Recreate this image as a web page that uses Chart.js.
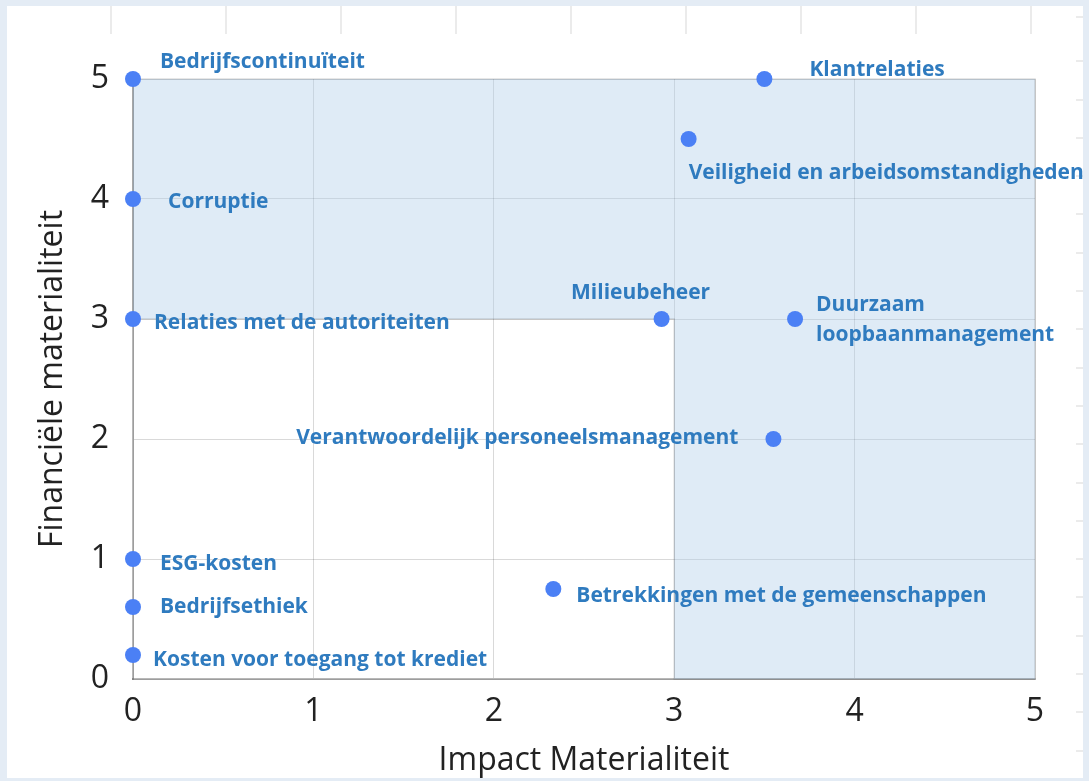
<!DOCTYPE html>
<html lang="nl">
<head>
<meta charset="utf-8">
<title>Materialiteitsmatrix</title>
<script src="https://cdn.jsdelivr.net/npm/chart.js@4.4.1/dist/chart.umd.min.js"></script>
<style>
    html, body {
        margin: 0;
        padding: 0;
        background: #e4ecf5;
        width: 1089px;
        height: 781px;
        overflow: hidden;
        font-family: 'Open Sans', sans-serif;
    }
    .panel {
        position: absolute;
        left: 7px;
        top: 6px;
        width: 1076px;
        height: 772px;
        background: #ffffff;
    }
    .strip-top {
        position: absolute;
        left: 7px;
        top: 6px;
        width: 1076px;
        height: 28px;
        background: repeating-linear-gradient(90deg, transparent 0, transparent 113px, #ebebeb 113px, #ebebeb 115px);
        background-position: -10px 0;
    }
    .strip-right {
        position: absolute;
        left: 1076px;
        top: 6px;
        width: 7px;
        height: 772px;
        background: repeating-linear-gradient(180deg, transparent 0, transparent 36.3px, #ebebeb 36.3px, #ebebeb 38.3px);
        background-position: 0 18px;
    }
    .chart-box {
        position: absolute;
        left: 0;
        top: 0;
        width: 1089px;
        height: 781px;
    }
</style>
</head>
<body>
<div class="panel"></div>
<div class="strip-top"></div>
<div class="strip-right"></div>
<div class="chart-box"><canvas id="matrixChart"></canvas></div>

<script>
// Onderwerpen met impact- en financiële materialiteit
const topics = [
    'Bedrijfscontinuïteit',
    'Klantrelaties',
    'Veiligheid en arbeidsomstandigheden',
    'Corruptie',
    'Relaties met de autoriteiten',
    'Milieubeheer',
    ['Duurzaam', 'loopbaanmanagement'],
    'Verantwoordelijk personeelsmanagement',
    'ESG-kosten',
    'Betrekkingen met de gemeenschappen',
    'Bedrijfsethiek',
    'Kosten voor toegang tot krediet',
];
const impactScores = [0, 3.5, 3.08, 0, 0, 2.93, 3.67, 3.55, 0, 2.33, 0, 0];
const financialScores = [5, 5, 4.5, 4, 3, 3, 3, 2, 1, 0.75, 0.6, 0.2];
const axisTicks = [0, 1, 2, 3, 4, 5];

// Drempel waarboven een onderwerp als materieel geldt
const threshold = 3;

// Plaatsing van elk label t.o.v. het punt: [dx, dy, uitlijning]
const labelPlacement = [
    [27, -17, 'left'],
    [45, -9, 'left'],
    [0, 34, 'left'],
    [35, 3, 'left'],
    [21, 4, 'left'],
    [-21, -26, 'center'],
    [21, -14, 'left'],
    [-35, -1, 'right'],
    [27, 5, 'left'],
    [23, 7, 'left'],
    [27, 0, 'left'],
    [20, 5, 'left'],
];

const labelColor = '#2f7bbf';
const pointColor = '#4b80f5';
const gridColor = 'rgba(0, 0, 0, 0.15)';

const points = impactScores.map((x, i) => ({ x, y: financialScores[i] }));

// Lichtblauwe vlakken voor de materiële zones
const zonePlugin = {
    id: 'zones',
    beforeDatasetsDraw(chart) {
        const { ctx, scales: { x, y } } = chart;
        const xMin = x.getPixelForValue(x.min);
        const xMax = x.getPixelForValue(x.max);
        const yMin = y.getPixelForValue(y.min);
        const yMax = y.getPixelForValue(y.max);
        const xT = x.getPixelForValue(threshold);
        const yT = y.getPixelForValue(threshold);

        ctx.save();
        ctx.fillStyle = 'rgba(176, 206, 232, 0.4)';
        ctx.strokeStyle = 'rgba(0, 0, 0, 0.13)';
        ctx.lineWidth = 1.5;
        ctx.beginPath();
        ctx.moveTo(xMin, yMax);
        ctx.lineTo(xMax, yMax);
        ctx.lineTo(xMax, yMin);
        ctx.lineTo(xT, yMin);
        ctx.lineTo(xT, yT);
        ctx.lineTo(xMin, yT);
        ctx.closePath();
        ctx.fill();
        ctx.stroke();
        ctx.restore();
    }
};

// Namen naast de punten
const topicLabelPlugin = {
    id: 'topicLabels',
    afterDatasetsDraw(chart) {
        const { ctx } = chart;
        const meta = chart.getDatasetMeta(0);
        ctx.save();
        ctx.font = 'bold 21px "Open Sans"';
        ctx.fillStyle = labelColor;
        ctx.textBaseline = 'middle';
        meta.data.forEach((el, i) => {
            const [dx, dy, align] = labelPlacement[i];
            const lines = Array.isArray(topics[i]) ? topics[i] : [topics[i]];
            ctx.textAlign = align;
            lines.forEach((line, j) => {
                ctx.fillText(line, el.x + dx, el.y + dy + j * 30);
            });
        });
        ctx.restore();
    }
};

new Chart(document.getElementById('matrixChart'), {
    type: 'scatter',
    data: {
        datasets: [
            {
                label: 'Onderwerpen',
                data: points,
                backgroundColor: pointColor,
                borderWidth: 0,
                pointRadius: 8,
                pointHoverRadius: 8,
                clip: false,
            }
        ]
    },
    options: {
        responsive: true,
        maintainAspectRatio: false,
        animation: false,
        layout: {
            padding: { left: 0, right: 54, top: 79, bottom: 0 }
        },
        plugins: {
            legend: { display: false },
            tooltip: { enabled: false },
        },
        scales: {
            x: {
                type: 'linear',
                min: 0,
                max: 5,
                afterBuildTicks: (scale) => {
                    scale.ticks = axisTicks.map((value) => ({ value }));
                },
                afterFit: (scale) => {
                    scale.height = 102;
                },
                ticks: {
                    color: '#222',
                    padding: 14,
                    font: { family: 'Open Sans', size: 32 },
                },
                grid: { color: gridColor, drawTicks: false },
                border: { color: 'rgba(0, 0, 0, 0.28)', width: 2 },
                title: {
                    display: true,
                    text: 'Impact Materialiteit',
                    color: '#222',
                    font: { family: 'Open Sans', size: 32 },
                    padding: { top: 0, bottom: 1 },
                }
            },
            y: {
                type: 'linear',
                min: 0,
                max: 5,
                afterBuildTicks: (scale) => {
                    scale.ticks = axisTicks.map((value) => ({ value }));
                },
                afterFit: (scale) => {
                    scale.width = 133;
                },
                ticks: {
                    color: '#222',
                    padding: 24,
                    font: { family: 'Open Sans', size: 32 },
                },
                grid: { color: gridColor, drawTicks: false },
                border: { color: 'rgba(0, 0, 0, 0.28)', width: 2 },
                title: {
                    display: true,
                    text: 'Financiële materialiteit',
                    color: '#222',
                    font: { family: 'Open Sans', size: 32 },
                    padding: { top: 34, bottom: 0 },
                }
            }
        }
    },
    plugins: [zonePlugin, topicLabelPlugin]
});
</script>
</body>
</html>
